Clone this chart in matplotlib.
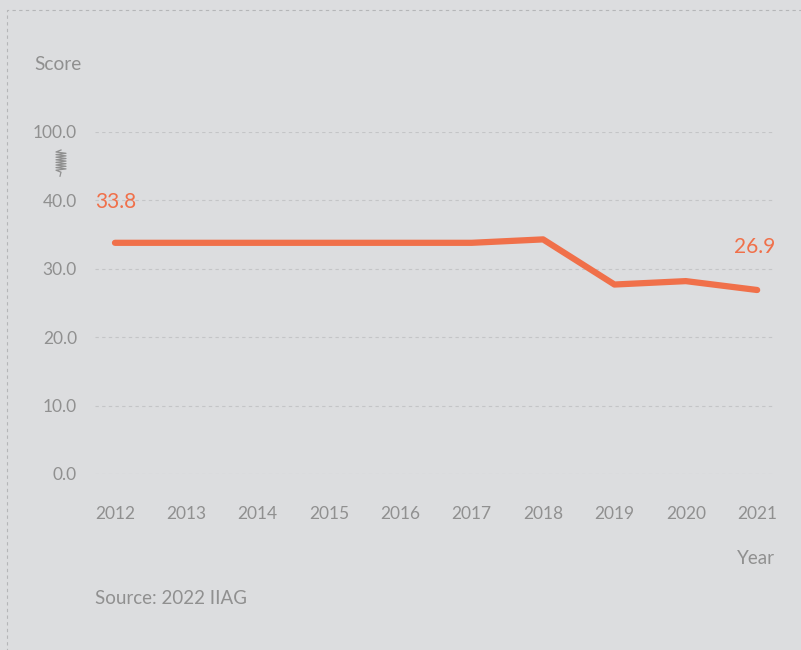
import matplotlib
matplotlib.use("Agg")
import matplotlib.pyplot as plt
import numpy as np
from matplotlib.lines import Line2D
from matplotlib.patches import Rectangle

years = [2012, 2013, 2014, 2015, 2016, 2017, 2018, 2019, 2020, 2021]
scores = [33.8, 33.8, 33.8, 33.8, 33.8, 33.8, 34.3, 27.7, 28.2, 26.9]
ytick_vals = [0, 10, 20, 30, 40, 100]
ytick_labels = ["0.0", "10.0", "20.0", "30.0", "40.0", "100.0"]

BG = "#dcdddf"
GREY = "#909090"
ORANGE = "#f0704a"
plt.rcParams['font.family'] = ['Lato', 'DejaVu Sans']

def fwd(v):
    v = np.asarray(v, dtype=float)
    return np.where(v <= 40, v, 40 + (v - 40) / 6.0)

def inv(u):
    u = np.asarray(u, dtype=float)
    return np.where(u <= 40, u, 40 + (u - 40) * 6.0)

W, H = 801, 650
fig = plt.figure(figsize=(W / 100, H / 100), dpi=100, facecolor=BG)
ax = fig.add_axes([95 / W, (H - 474) / H, (775 - 95) / W, (474 - 132) / H])
ax.set_facecolor(BG)
ax.set_yscale('function', functions=(fwd, inv))
ax.set_ylim(0, 100)
ax.set_xlim(2011.72, 2021.25)

ax.plot(years, scores, color=ORANGE, lw=4.5, solid_capstyle='round', solid_joinstyle='round', zorder=3)

ax.set_yticks(ytick_vals)
ax.set_yticklabels(ytick_labels)
ax.set_xticks(years)
ax.set_xticklabels([str(y) for y in years])
ax.yaxis.grid(True, color="#c4c5c7", lw=0.8, ls=(0, (3, 3)))
ax.xaxis.grid(False)
for s in ax.spines.values():
    s.set_visible(False)
ax.tick_params(axis='y', length=0, pad=13, labelsize=12.5, labelcolor=GREY)
ax.tick_params(axis='x', length=0, pad=23, labelsize=12.5, labelcolor=GREY)

ax.annotate(f"{scores[0]:.1f}", (years[0], scores[0]), xytext=(-20, 41), textcoords='offset pixels',
            ha='left', va='center', color=ORANGE, fontsize=15)
ax.annotate(f"{scores[-1]:.1f}", (years[-1], scores[-1]), xytext=(18, 43), textcoords='offset pixels',
            ha='right', va='center', color=ORANGE, fontsize=15)

fig.text(34 / W, 1 - 64 / H, "Score", color=GREY, fontsize=13.8, ha='left', va='center')
fig.text(775 / W, 1 - 558 / H, "Year", color=GREY, fontsize=13.5, ha='right', va='center')
fig.text(95 / W, 1 - 599 / H, "Source: 2022 IIAG", color=GREY, fontsize=13.5, ha='left', va='center')

# axis break squiggle
xs, ys = [], []
n = 7
for i in range(n * 2 + 1):
    xs.append(56 if i % 2 == 0 else 66)
    ys.append(152 + i * 1.3)
xs = [61] + xs + [61, 60]
ys = [150] + ys + [ys[-1] + 2, ys[-1] + 6]
fig.add_artist(Line2D([x / W for x in xs], [1 - y / H for y in ys], color=GREY, lw=0.9,
                      transform=fig.transFigure))

# dashed outer border
fig.add_artist(Rectangle((7 / W, -0.05), 1.2, 1 - 10 / H + 0.05, transform=fig.transFigure,
                         fill=False, ec="#b5b6b8", lw=0.8, ls=(0, (3, 3))))

fig.savefig("out.png", dpi=100, facecolor=BG)
